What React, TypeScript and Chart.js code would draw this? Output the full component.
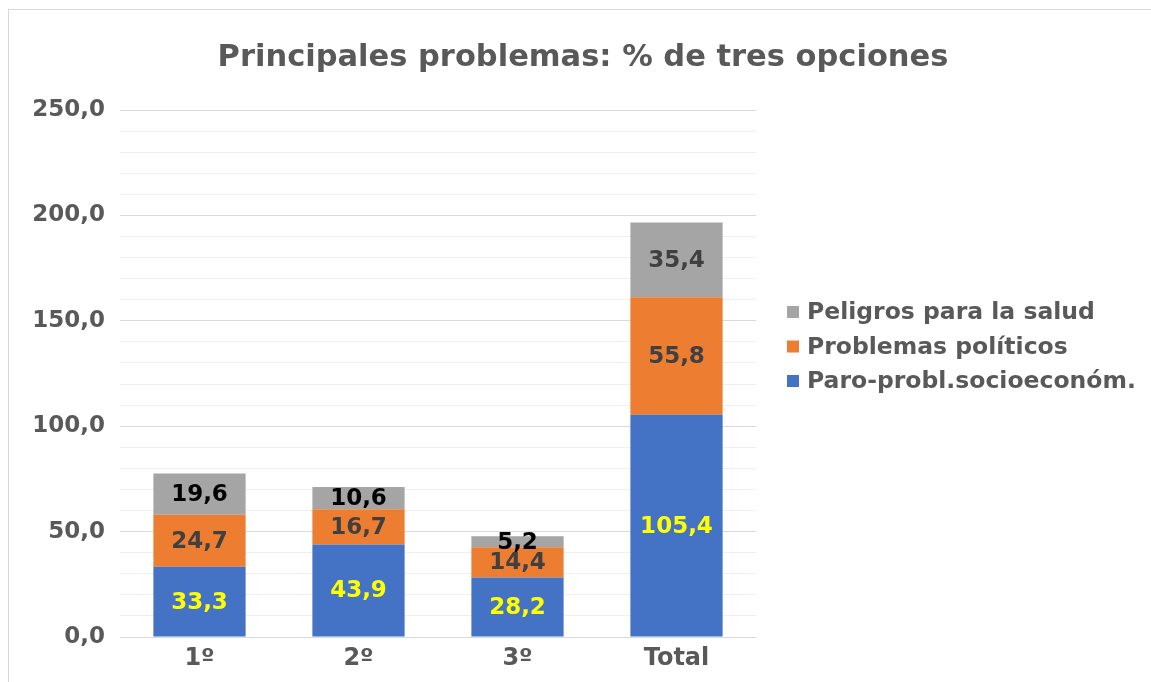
import { useEffect, useRef } from "react";
import { Chart, registerables } from "chart.js";

Chart.register(...registerables);

const categories = ["1º", "2º", "3º", "Total"];
const socioeconomico = [33.3, 43.9, 28.2, 105.4];
const politicos = [24.7, 16.7, 14.4, 55.8];
const salud = [19.6, 10.6, 5.2, 35.4];
const seriesNames = ["Paro-probl.socioeconóm.", "Problemas políticos", "Peligros para la salud"];
const majorTicks = [0, 50, 100, 150, 200, 250];
const chartTitle = "Principales problemas: % de tres opciones";

const FONT = "'DejaVu Sans', 'Noto Sans', sans-serif";
const TEXT = "#595959";

const fmt = (v: number) => v.toFixed(1).replace(".", ",");

const valueLabels = {
  id: "valueLabels",
  afterDatasetsDraw(chart: any) {
    const ctx = chart.ctx;
    chart.data.datasets.forEach((ds: any, i: number) => {
      const meta = chart.getDatasetMeta(i);
      meta.data.forEach((el: any, j: number) => {
        const { x, y, base } = el.getProps(["x", "y", "base"], true);
        ctx.save();
        ctx.font = `bold 23px ${FONT}`;
        ctx.fillStyle = ds.labelColors[j];
        ctx.textAlign = "center";
        ctx.textBaseline = "middle";
        ctx.fillText(fmt(ds.data[j]), x, (y + base) / 2 + 1);
        ctx.restore();
      });
    });
  },
};

const titleAndLegend = {
  id: "titleAndLegend",
  afterDraw(chart: any) {
    const ctx = chart.ctx;
    ctx.save();
    ctx.font = `bold 30.5px ${FONT}`;
    ctx.fillStyle = TEXT;
    ctx.textAlign = "center";
    ctx.textBaseline = "middle";
    ctx.fillText(chartTitle, 574, 48);

    const ds = [...chart.data.datasets].reverse();
    ctx.font = `bold 23.5px ${FONT}`;
    ctx.textAlign = "left";
    ds.forEach((d: any, k: number) => {
      const cy = 302 + k * 34.5;
      ctx.fillStyle = d.backgroundColor;
      ctx.fillRect(778, cy - 6, 12, 12);
      ctx.fillStyle = TEXT;
      ctx.fillText(d.label, 798, cy + 1);
    });
    ctx.restore();
  },
};

export default function App() {
  const ref = useRef<HTMLCanvasElement>(null);

  useEffect(() => {
    document.documentElement.style.overflow = "hidden";
    document.body.style.overflow = "hidden";
    const chart = new Chart(ref.current!, {
      type: "bar",
      data: {
        labels: categories,
        datasets: [
          {
            label: seriesNames[0],
            data: socioeconomico,
            backgroundColor: "#4472C4",
            labelColors: ["#FFFF00", "#FFFF00", "#FFFF00", "#FFFF00"],
          } as any,
          {
            label: seriesNames[1],
            data: politicos,
            backgroundColor: "#ED7D31",
            labelColors: ["#404040", "#404040", "#404040", "#404040"],
          } as any,
          {
            label: seriesNames[2],
            data: salud,
            backgroundColor: "#A5A5A5",
            labelColors: ["#000000", "#000000", "#000000", "#404040"],
          } as any,
        ],
      },
      options: {
        animation: false,
        responsive: true,
        maintainAspectRatio: false,
        datasets: { bar: { categoryPercentage: 0.58, barPercentage: 1 } },
        layout: { padding: { top: 100, right: 401, bottom: 11, left: 0 } },
        plugins: {
          legend: { display: false },
          title: { display: false },
          tooltip: { enabled: false },
        },
        scales: {
          x: {
            stacked: true,
            grid: { display: false },
            border: { display: false },
            ticks: { color: TEXT, font: { family: FONT, size: 24, weight: "bold" }, padding: -1 },
            afterFit: (s: any) => {
              s.height = 40;
            },
          },
          y: {
            stacked: true,
            min: 0,
            max: 250,
            border: { display: false },
            grid: {
              drawTicks: false,
              lineWidth: 1,
              color: (c: any) => (majorTicks.includes(c.tick?.value) ? "#d9d9d9" : "#efefef"),
            },
            ticks: {
              stepSize: 10,
              autoSkip: false,
              padding: 15,
              color: TEXT,
              font: { family: FONT, size: 23, weight: "bold" },
              callback: (v: any) => (majorTicks.includes(Number(v)) ? fmt(Number(v)) : ""),
            },
            afterFit: (s: any) => {
              s.width = 111;
            },
          },
        },
      } as any,
      plugins: [valueLabels, titleAndLegend],
    });
    return () => chart.destroy();
  }, []);

  return (
    <div
      style={{
        position: "absolute",
        left: 8,
        top: 9,
        width: 1150,
        height: 680,
        border: "1px solid #d9d9d9",
        boxSizing: "border-box",
        background: "#fff",
      }}
    >
      <canvas ref={ref} />
    </div>
  );
}
